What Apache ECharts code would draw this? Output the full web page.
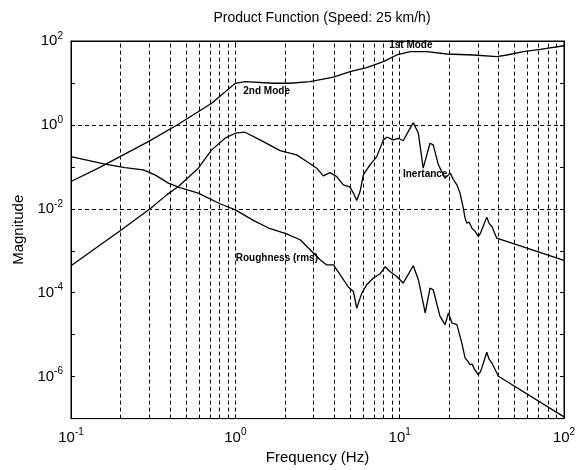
<!DOCTYPE html>
<html><head><meta charset="utf-8">
<script src="https://cdn.jsdelivr.net/npm/echarts@6/dist/echarts.min.js"></script>
<style>html,body{margin:0;padding:0;background:#fff}#c{width:583px;height:470px}</style>
</head><body><div id="c"></div>
<script>
// ---- data ----
const titleText = 'Product Function (Speed: 25 km/h)';
const xAxisName = 'Frequency (Hz)';
const yAxisName = 'Magnitude';

const modeFreq = [0.1,0.1466,0.2954,0.45,0.718,1.0,1.146,1.70,2.15,2.85,3.95,4.99,6.3,7.96,9.6,11.6,14.6,19.4,28.1,39,44.9,56.6,71.6,100];
const modeMag  = [0.0447,0.093,0.40,1.04,3.29,9.8,10.7,9.85,9.85,10.7,13.7,18.6,23.1,32.1,46.4,55.6,55.6,49,46.4,42.3,46.4,55.6,63.4,77];

const inertFreq = [0.1,0.199,0.303,0.382,0.45,0.595,0.718,0.866,1.0,1.146,1.413,1.87,2.36,2.72,3.13,3.43,3.77,4.14,4.54,4.99,5.23,5.48,5.74,6.01,6.6,7.26,7.96,8.35,9.16,9.82,10.5,12.1,13.0,13.9,15.3,16.0,17.2,18.9,20.3,21.2,22.3,23.3,24.4,25.0,25.6,26.5,27.5,28.2,28.8,30.1,31.0,31.6,33.9,35.0,36.4,39.0,100];
const inertMag  = [4.4e-4,3.0e-3,0.01,0.0215,0.034,0.093,0.254,0.482,0.634,0.67,0.44,0.244,0.193,0.134,0.093,0.061,0.073,0.0587,0.0373,0.0329,0.0237,0.0158,0.0258,0.0645,0.112,0.176,0.44,0.51,0.44,0.48,0.42,1.13,0.63,0.093,0.366,0.334,0.112,0.0538,0.0708,0.0500,0.0373,0.0237,0.0104,0.0060,0.00457,0.0048,0.00347,0.0037,0.0029,0.00219,0.0026,0.00316,0.00634,0.0045,0.0038,0.0020,5.9e-4];

const roughFreq = [0.1,0.161,0.213,0.275,0.325,0.391,0.46,0.595,0.807,1.0,1.287,1.58,2.05,2.48,2.85,3.28,3.60,3.95,4.34,4.87,5.23,5.48,5.88,6.30,6.92,7.60,8.15,8.74,9.6,10.5,12.1,13.0,14.3,15.3,16.0,17.6,18.9,19.8,20.8,22.3,23.9,25.0,25.8,26.8,27.6,28.5,30.1,31.0,31.6,33.9,35.0,36.4,39.9,100];
const roughMag  = [0.176,0.116,0.096,0.085,0.0645,0.041,0.0321,0.0237,0.0132,0.00946,0.00532,0.00353,0.00254,0.00183,0.00106,6.1e-4,4.6e-4,4.6e-4,2.7e-4,1.37e-4,1.07e-4,4.3e-5,9.8e-5,1.55e-4,2.24e-4,2.83e-4,4.16e-4,3.2e-4,2.44e-4,1.7e-4,4.4e-4,2.04e-4,3.3e-5,1.29e-4,1.18e-4,2.73e-5,1.73e-5,3.3e-5,1.9e-5,1.73e-5,6.3e-6,2.8e-6,2.4e-6,1.93e-6,2.0e-6,1.5e-6,1.12e-6,1.3e-6,1.61e-6,3.8e-6,2.6e-6,2.12e-6,1.02e-6,1.1e-7];

const xGridValues = [0.2,0.3,0.4,0.5,0.6,0.7,0.8,0.9,1,2,3,4,5,6,7,8,9,10,20,30,40,50,60,70,80,90];
const yGridValues = [1e-6,1e-4,1e-2,1];

const annotations = [
  {text:'1st Mode', f:11.7, m:80},
  {text:'2nd Mode', f:1.55, m:6.45},
  {text:'Inertance', f:14.3, m:0.068},
  {text:'Roughness (rms)', f:1.79, m:6.8e-4}
];

// ---- chart ----
const FONT = 'Liberation Sans, Arial, sans-serif';
const pairs = (xs, ys) => xs.map((x, i) => [x, ys[i]]);
const supRich = {
  b: {fontSize: 15, fontFamily: FONT, color: '#000', lineHeight: 20},
  s: {fontSize: 10, fontFamily: FONT, color: '#000', lineHeight: 8, verticalAlign: 'top'}
};
const expLabel = (v) => '{b|10}{s|' + Math.round(Math.log10(v)) + '}';

const chart = echarts.init(document.getElementById('c'), null, {renderer: 'canvas'});
const lineBase = {
  type: 'line', showSymbol: false, symbol: 'none', animation: false, silent: true,
  lineStyle: {color: '#000', width: 1.3}
};
const option = {
  animation: false,
  backgroundColor: '#fff',
  title: {
    text: titleText, left: 317, top: 6, textAlign: 'center',
    textStyle: {fontSize: 14, fontWeight: 'normal', fontFamily: FONT, color: '#000'}
  },
  grid: {left: 71, right: 19, top: 41, bottom: 51, show: true, borderColor: '#000', borderWidth: 1, backgroundColor: '#fff'},
  xAxis: [{
    type: 'log', logBase: 10, min: 0.1, max: 100, interval: 1,
    axisLine: {show: true, lineStyle: {color: '#000', width: 1}},
    axisTick: {show: true, inside: true, length: 4, lineStyle: {color: '#000'}},
    splitLine: {show: false},
    axisLabel: {formatter: expLabel, rich: supRich, margin: 9},
    name: xAxisName, nameLocation: 'middle', nameGap: 30,
    nameTextStyle: {fontSize: 15, fontFamily: FONT, color: '#000'}
  }, {
    type: 'log', logBase: 10, min: 0.1, max: 100, interval: 1, position: 'top',
    axisLine: {show: true, lineStyle: {color: '#000'}},
    axisTick: {show: true, inside: true, length: 4, lineStyle: {color: '#000'}},
    axisLabel: {show: false}, splitLine: {show: false}
  }],
  yAxis: [{
    type: 'log', logBase: 10, min: 1e-7, max: 100, interval: 1,
    axisLine: {show: true, lineStyle: {color: '#000', width: 1}},
    axisTick: {show: true, inside: true, length: 4, lineStyle: {color: '#000'}},
    splitLine: {show: false},
    axisLabel: {
      formatter: (v) => (Math.round(Math.log10(v)) % 2 === 0 ? expLabel(v) : ''),
      rich: supRich, margin: 8
    },
    name: yAxisName, nameLocation: 'middle', nameGap: 37, nameRotate: 90,
    nameTextStyle: {fontSize: 15, fontFamily: FONT, color: '#000'}
  }, {
    type: 'log', logBase: 10, min: 1e-7, max: 100, interval: 1, position: 'right',
    axisLine: {show: true, lineStyle: {color: '#000'}},
    axisTick: {show: true, inside: true, length: 4, lineStyle: {color: '#000'}},
    axisLabel: {show: false}, splitLine: {show: false}
  }],
  series: [
    Object.assign({}, lineBase, {
      name: 'Modes', data: pairs(modeFreq, modeMag),
      markLine: {
        silent: true, animation: false, symbol: ['none', 'none'], label: {show: false},
        lineStyle: {type: [4, 3], color: '#000', width: 1},
        data: xGridValues.map(v => ({xAxis: v})).concat(yGridValues.map(v => ({yAxis: v})))
      }
    }),
    Object.assign({}, lineBase, {name: 'Inertance', data: pairs(inertFreq, inertMag)}),
    Object.assign({}, lineBase, {
      name: 'Roughness', data: pairs(roughFreq, roughMag),
      markPoint: {
        silent: true, animation: false, symbol: 'circle', symbolSize: 0,
        itemStyle: {color: 'transparent'},
        data: annotations.map(a => ({
          coord: [a.f, a.m],
          label: {show: true, position: 'inside', formatter: a.text, fontSize: 10, fontWeight: 'bold', fontFamily: FONT, color: '#000'}
        }))
      }
    })
  ]
};
chart.setOption(option);
</script>
</body></html>
